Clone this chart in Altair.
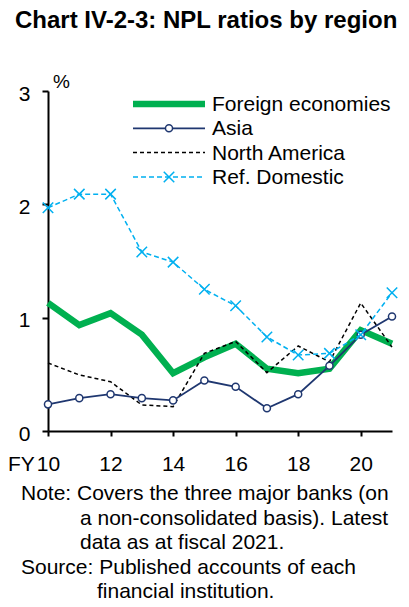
import altair as alt
import pandas as pd

FONT = "Liberation Sans, Arial, Helvetica, sans-serif"

years = [10, 11, 12, 13, 14, 15, 16, 17, 18, 19, 20, 21]
foreign = [1.13, 0.935, 1.04, 0.85, 0.51, 0.65, 0.77, 0.55, 0.51, 0.55, 0.89, 0.77]
asia = [0.235, 0.29, 0.325, 0.29, 0.27, 0.445, 0.39, 0.20, 0.325, 0.575, 0.85, 1.01]
north_america = [0.60, 0.495, 0.435, 0.23, 0.215, 0.685, 0.79, 0.515, 0.75, 0.61, 1.13, 0.74]
ref_domestic = [1.97, 2.09, 2.09, 1.58, 1.49, 1.25, 1.105, 0.83, 0.67, 0.685, 0.85, 1.22]

series_names = ["Foreign economies", "Asia", "North America", "Ref. Domestic"]
x_ticks = [10, 12, 14, 16, 18, 20]
y_ticks = [0, 1, 2, 3]

title_text = "Chart IV-2-3: NPL ratios by region"
unit_text = "%"
fy_text = "FY"
note_lines = [
    "Note: Covers the three major banks (on",
    "a non-consolidated basis). Latest",
    "data as at fiscal 2021.",
    "Source: Published accounts of each",
    "financial institution.",
]

GREEN = "#00B050"
NAVY = "#1F3770"
LIGHT = "#00B0F0"
BLACK = "#000000"

rows = []
for name, vals in zip(series_names, [foreign, asia, north_america, ref_domestic]):
    for yr, v in zip(years, vals):
        rows.append({"series": name, "year": yr, "value": v})
df = pd.DataFrame(rows)

x_enc = alt.X(
    "year:Q",
    scale=alt.Scale(domain=[10, 21], nice=False),
    axis=alt.Axis(
        values=x_ticks, title=None, grid=False, labelFontSize=21, labelFont=FONT,
        labelColor=BLACK, tickSize=5, tickWidth=2, tickColor=BLACK,
        domainColor=BLACK, domainWidth=2, labelPadding=17, labelFlush=False,
    ),
)
y_enc = alt.Y(
    "value:Q",
    scale=alt.Scale(domain=[0, 3], nice=False),
    axis=alt.Axis(
        values=y_ticks, title=None, grid=False, labelFontSize=21, labelFont=FONT,
        labelColor=BLACK, tickSize=6, tickWidth=2, tickColor=BLACK,
        domainColor=BLACK, domainWidth=2, labelPadding=12, labelOffset=3,
    ),
)

base = alt.Chart(df)

green_line = base.transform_filter(alt.datum.series == "Foreign economies").mark_line(
    color=GREEN, strokeWidth=6.5, strokeJoin="miter"
).encode(x=x_enc, y=y_enc)

na_line = base.transform_filter(alt.datum.series == "North America").mark_line(
    color=BLACK, strokeWidth=1.5, strokeDash=[4, 3]
).encode(x=x_enc, y=y_enc)

asia_line = base.transform_filter(alt.datum.series == "Asia").mark_line(
    color=NAVY, strokeWidth=1.8
).encode(x=x_enc, y=y_enc)
asia_pts = base.transform_filter(alt.datum.series == "Asia").mark_point(
    shape="circle", size=50, filled=False, fill="white", fillOpacity=1,
    color=NAVY, strokeWidth=1.5, opacity=1
).encode(x=x_enc, y=y_enc)

CROSS = "M-1,-1L1,1M-1,1L1,-1"
ref_line = base.transform_filter(alt.datum.series == "Ref. Domestic").mark_line(
    color=LIGHT, strokeWidth=1.5, strokeDash=[5, 3]
).encode(x=x_enc, y=y_enc)
ref_pts = base.transform_filter(alt.datum.series == "Ref. Domestic").mark_point(
    shape=CROSS, size=110, filled=False, color=LIGHT, strokeWidth=1.5, opacity=1
).encode(x=x_enc, y=y_enc)

# ---- legend (manual) ----
leg_x0, leg_x1, leg_mid, leg_tx = 85, 157, 121, 164
leg_y = [13, 37.3, 61.6, 86]
leg_df = pd.DataFrame({"label": series_names})

def leg_rule(i, **kw):
    return alt.Chart(leg_df.iloc[[i]]).mark_rule(**kw).encode(
        x=alt.value(leg_x0), x2=alt.value(leg_x1), y=alt.value(leg_y[i])
    )

legend_layers = [
    leg_rule(0, color=GREEN, strokeWidth=6.5),
    leg_rule(1, color=NAVY, strokeWidth=1.8),
    alt.Chart(leg_df.iloc[[1]]).mark_point(
        shape="circle", size=50, filled=False, fill="white", fillOpacity=1,
        color=NAVY, strokeWidth=1.5, opacity=1
    ).encode(x=alt.value(leg_mid), y=alt.value(leg_y[1])),
    leg_rule(2, color=BLACK, strokeWidth=1.5, strokeDash=[4, 3]),
    leg_rule(3, color=LIGHT, strokeWidth=1.5, strokeDash=[5, 3]),
    alt.Chart(leg_df.iloc[[3]]).mark_point(
        shape=CROSS, size=110, filled=False, color=LIGHT, strokeWidth=1.5, opacity=1
    ).encode(x=alt.value(leg_mid), y=alt.value(leg_y[3])),
]
for i in range(4):
    legend_layers.append(
        alt.Chart(leg_df.iloc[[i]]).mark_text(
            align="left", baseline="middle", font=FONT, fontSize=21, color=BLACK, dy=1
        ).encode(x=alt.value(leg_tx), y=alt.value(leg_y[i]), text="label:N")
    )

# ---- texts ----
def txt(s, x, y, size=21, bold=False, align="left", baseline="alphabetic"):
    return alt.Chart(pd.DataFrame({"t": [s]})).mark_text(
        align=align, baseline=baseline, font=FONT, fontSize=size,
        fontWeight="bold" if bold else "normal", color=BLACK
    ).encode(x=alt.value(x), y=alt.value(y), text="t:N")

text_layers = [
    txt(title_text, -33, -63, size=24, bold=True),
    txt(unit_text, 5, -3, size=19),
    txt(fy_text, -40, 380),
]
note_x = [-27, 32, 32, -27, 49]
note_y = [409, 433.5, 458, 482.5, 507]
for s, nx, ny in zip(note_lines, note_x, note_y):
    text_layers.append(txt(s, nx, ny))

chart = alt.layer(
    green_line, na_line, asia_line, asia_pts, ref_line, ref_pts,
    *legend_layers, *text_layers
).properties(
    width=344,
    height=340,
    padding={"left": 40, "top": 83, "right": 9, "bottom": 168},
    autosize=alt.AutoSizeParams(type="none"),
).configure_view(stroke=None)

chart.save("out.html", embed_options={"renderer": "svg", "actions": False})
